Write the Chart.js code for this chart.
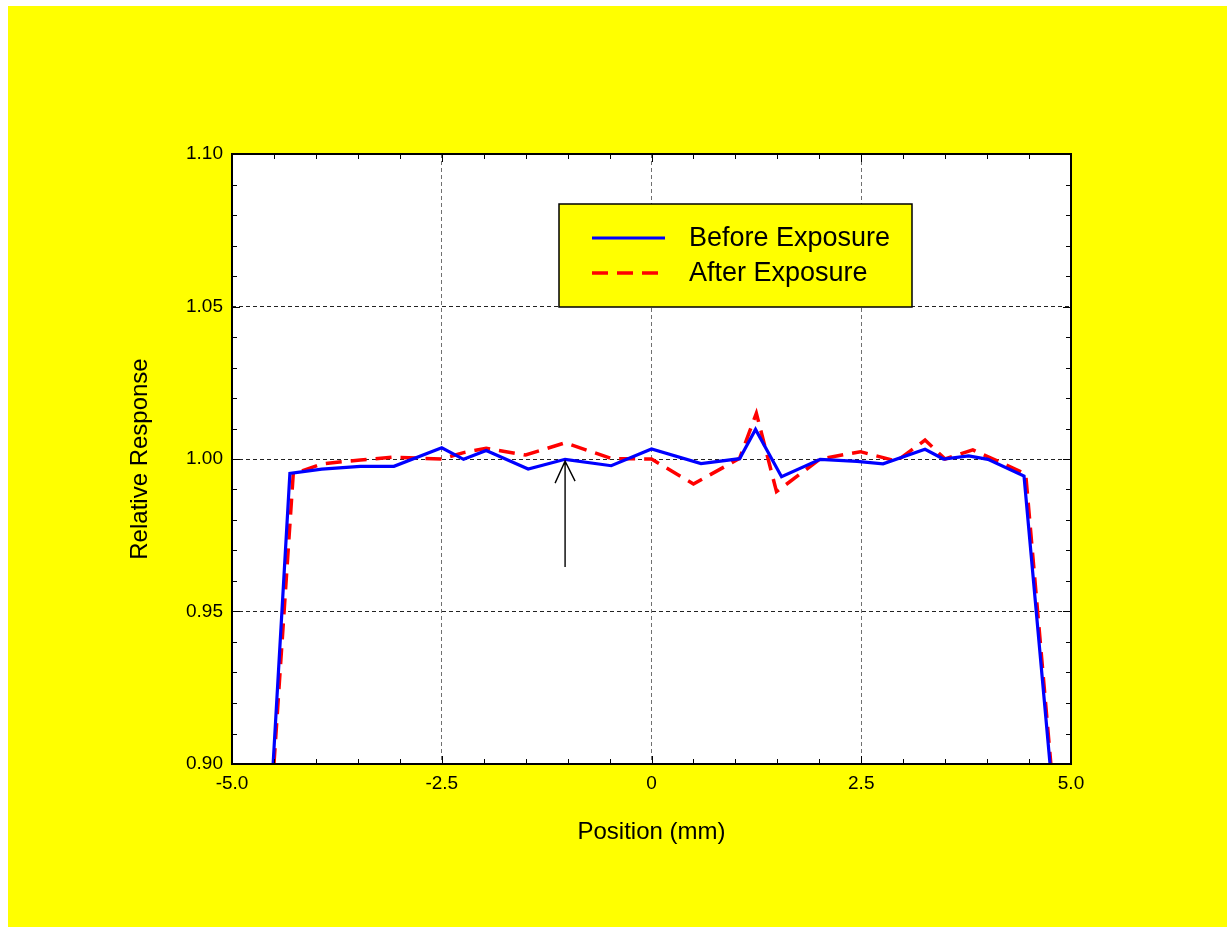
<!DOCTYPE html>
<html>
<head>
<meta charset="utf-8">
<title>Relative Response</title>
<script src="https://cdn.jsdelivr.net/npm/chart.js@4/dist/chart.umd.min.js"></script>
<style>
  body { margin: 0; background: #fff; }
  canvas { display: block; }
</style>
</head>
<body>
<canvas id="myChart" width="1227" height="927"></canvas>
<script>
// values
var posBefore = [-4.51, -4.31, -3.93, -3.47, -3.07, -2.50, -2.24, -1.97, -1.47, -1.03, -0.48, 0.00,
                 0.59, 1.05, 1.24, 1.55, 2.01, 2.45, 2.76, 3.26, 3.48, 3.78, 4.01, 4.44, 4.75];
var relBefore = [0.900, 0.9953, 0.9967, 0.9976, 0.9976, 1.0037, 0.9999, 1.0028, 0.9967, 0.9999, 0.9978, 1.0033,
                 0.9985, 1.0001, 1.0097, 0.9942, 0.9999, 0.9992, 0.9984, 1.0032, 1.0000, 1.0010, 0.9999, 0.9944, 0.900];

var posAfter = [-4.50, -4.27, -3.93, -3.47, -3.07, -2.50, -2.24, -1.97, -1.50, -1.03, -0.47, 0.00,
                0.50, 1.05, 1.25, 1.49, 2.01, 2.49, 2.92, 3.26, 3.50, 3.83, 4.46, 4.76];
var relAfter = [0.900, 0.9951, 0.9984, 0.9997, 1.0006, 1.0000, 1.0021, 1.0035, 1.0013, 1.0053, 1.0001, 1.0000,
                0.9918, 1.0002, 1.0150, 0.9893, 1.0000, 1.0024, 0.9993, 1.0062, 1.0000, 1.0030, 0.9951, 0.900];

var seriesNames = ["Before Exposure", "After Exposure"];
var xTickLabels = ["-5.0", "-2.5", "0", "2.5", "5.0"];
var yTickLabels = ["0.90", "0.95", "1.00", "1.05", "1.10"];

// the little arrow under the curve (data units)
var arrowX = -1.03, arrowFrom = 0.9646, arrowTo = 0.9993;

var FONT = "'Liberation Sans', Arial, sans-serif";

function toPoints(xs, ys) {
    return xs.map(function(x, i) { return { x: x, y: ys[i] }; });
}
function isMajor(v, step) {
    return Math.abs(v / step - Math.round(v / step)) < 1e-6;
}

var framePlugin = {
    id: 'frame',
    beforeDraw: function(chart) {
        var ctx = chart.ctx, a = chart.chartArea;
        ctx.save();
        ctx.fillStyle = '#ffffff';
        ctx.fillRect(0, 0, chart.width, chart.height);
        ctx.fillStyle = '#ffff00';
        ctx.fillRect(8, 6, chart.width - 8, chart.height - 6);
        ctx.fillStyle = '#ffffff';
        ctx.fillRect(a.left, a.top, a.right - a.left, a.bottom - a.top);
        ctx.restore();
    },
    afterDatasetsDraw: function(chart) {
        var ctx = chart.ctx, a = chart.chartArea;
        var xs = chart.scales.x, ys = chart.scales.y;
        ctx.save();
        ctx.strokeStyle = '#000';
        ctx.lineWidth = 1;
        // inward ticks on all four sides
        xs.ticks.forEach(function(t) {
            var px = Math.round(xs.getPixelForValue(t.value)) + 0.5;
            var len = isMajor(t.value, 2.5) ? 8 : 5;
            ctx.beginPath();
            ctx.moveTo(px, a.bottom); ctx.lineTo(px, a.bottom - len);
            ctx.moveTo(px, a.top); ctx.lineTo(px, a.top + len);
            ctx.stroke();
        });
        ys.ticks.forEach(function(t) {
            var py = Math.round(ys.getPixelForValue(t.value)) + 0.5;
            var len = isMajor(t.value, 0.05) ? 8 : 5;
            ctx.beginPath();
            ctx.moveTo(a.left, py); ctx.lineTo(a.left + len, py);
            ctx.moveTo(a.right, py); ctx.lineTo(a.right - len, py);
            ctx.stroke();
        });
        // arrow
        var ax = xs.getPixelForValue(arrowX);
        var ay0 = ys.getPixelForValue(arrowFrom), ay1 = ys.getPixelForValue(arrowTo);
        ctx.lineWidth = 1.4;
        ctx.beginPath();
        ctx.moveTo(ax, ay0); ctx.lineTo(ax, ay1);
        ctx.moveTo(ax - 10, ay1 + 22); ctx.lineTo(ax, ay1); ctx.lineTo(ax + 10, ay1 + 20);
        ctx.stroke();
        // border box
        ctx.lineWidth = 2;
        ctx.strokeRect(a.left, a.top, a.right - a.left, a.bottom - a.top);
        ctx.restore();
    },
    afterDraw: function(chart) {
        // legend box
        var ctx = chart.ctx;
        var bx = 559, by = 204, bw = 353, bh = 103;
        ctx.save();
        ctx.fillStyle = '#ffff00';
        ctx.fillRect(bx, by, bw, bh);
        ctx.strokeStyle = '#000';
        ctx.lineWidth = 1.5;
        ctx.strokeRect(bx, by, bw, bh);
        chart.data.datasets.forEach(function(ds, i) {
            var y = by + 34 + i * 35;
            ctx.strokeStyle = ds.borderColor;
            ctx.lineWidth = ds.borderWidth;
            ctx.setLineDash(ds.borderDash || []);
            ctx.beginPath();
            ctx.moveTo(bx + 33, y); ctx.lineTo(bx + 106, y);
            ctx.stroke();
            ctx.setLineDash([]);
            ctx.fillStyle = '#000';
            ctx.font = '27px ' + FONT;
            ctx.textBaseline = 'middle';
            ctx.fillText(ds.label, bx + 130, y + 1);
        });
        ctx.restore();
    }
};

var ctx = document.getElementById("myChart").getContext("2d");
var chart = new Chart(ctx, {
    type: 'line',
    data: {
        datasets: [{
            label: seriesNames[0],
            data: toPoints(posBefore, relBefore),
            borderColor: '#0000ff',
            borderWidth: 3.2,
            pointRadius: 0,
            tension: 0,
            fill: false
        }, {
            label: seriesNames[1],
            data: toPoints(posAfter, relAfter),
            borderColor: '#ff0000',
            borderWidth: 3.5,
            borderDash: [16, 9],
            pointRadius: 0,
            tension: 0,
            fill: false
        }]
    },
    options: {
        responsive: false,
        animation: false,
        layout: { padding: { left: 0, top: 154, right: 156, bottom: 0 } },
        plugins: {
            legend: { display: false },
            tooltip: { enabled: false }
        },
        scales: {
            x: {
                type: 'linear',
                min: -5, max: 5,
                afterFit: function(s) { s.height = 163; },
                border: { display: false, dash: [4, 3] },
                grid: {
                    drawTicks: false,
                    color: function(c) {
                        var v = c.tick ? c.tick.value : 0;
                        return isMajor(v, 2.5) && v > -5 && v < 5 ? '#707070' : 'rgba(0,0,0,0)';
                    },
                    lineWidth: 1
                },
                ticks: {
                    stepSize: 0.5,
                    autoSkip: false,
                    maxRotation: 0,
                    padding: 8,
                    color: '#000',
                    font: { family: FONT, size: 19 },
                    callback: function(v) {
                        if (!isMajor(v, 2.5)) return '';
                        return xTickLabels[Math.round((v + 5) / 2.5)];
                    }
                },
                title: {
                    display: true,
                    text: 'Position (mm)',
                    color: '#000',
                    font: { family: FONT, size: 24 },
                    padding: { top: 0, bottom: 80 }
                }
            },
            y: {
                type: 'linear',
                min: 0.9, max: 1.1,
                afterFit: function(s) { s.width = 232; },
                border: { display: false, dash: [4, 3] },
                grid: {
                    drawTicks: false,
                    color: function(c) {
                        var v = c.tick ? c.tick.value : 0;
                        return isMajor(v, 0.05) && v > 0.91 && v < 1.09 ? '#222222' : 'rgba(0,0,0,0)';
                    },
                    lineWidth: 1
                },
                ticks: {
                    stepSize: 0.01,
                    autoSkip: false,
                    padding: 9,
                    color: '#000',
                    font: { family: FONT, size: 19 },
                    callback: function(v) {
                        if (!isMajor(v, 0.05)) return '';
                        return yTickLabels[Math.round((v - 0.9) / 0.05)];
                    }
                },
                title: {
                    display: true,
                    text: 'Relative Response',
                    color: '#000',
                    font: { family: FONT, size: 24 },
                    padding: { top: 126, bottom: 0 }
                }
            }
        }
    },
    plugins: [framePlugin]
});
</script>
</body>
</html>
